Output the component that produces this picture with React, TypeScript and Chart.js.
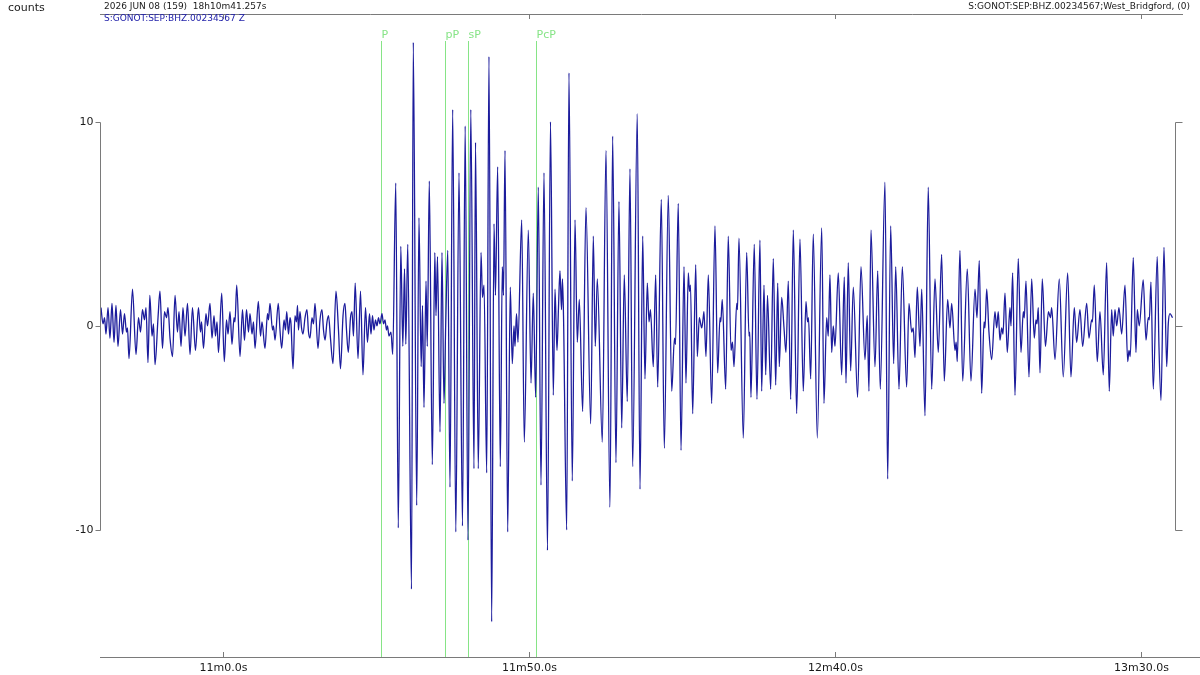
import React, { useEffect, useRef } from "react";
import { Chart, registerables } from "chart.js";

Chart.register(...registerables);

// ---- data -------------------------------------------------------------
const Y_UNITS = "counts";
const HEADER_LEFT = "2026 JUN 08 (159)  18h10m41.257s";
const HEADER_RIGHT = "S:GONOT:SEP:BHZ.00234567;West_Bridgford, (0)";
const TRACE_LABEL = "S:GONOT:SEP:BHZ.00234567 Z";

// seconds after 18h00m at the left edge of the window, and window length (s)
const WINDOW_START = 639.9;
const WINDOW_LENGTH = 175.66;

// x-axis tick values (seconds after 18h00m) and y-axis tick values (counts)
const X_TICKS = [660, 710, 760, 810];
const Y_TICKS = [10, 0, -10];
const Y_MIN = -16.23;
const Y_MAX = 15.29;

// phase picks (seconds after window start)
const PICK_NAMES = ["P", "pP", "sP", "PcP"];
const PICK_OFFSETS = [45.92, 56.37, 60.13, 71.24];

// trace turning points: time (s after window start) and amplitude (counts)
const TRACE_OFFSETS = [
  0.16, 0.49, 0.74, 0.98, 1.31, 1.63, 1.96, 2.29, 2.61, 2.94, 3.35, 3.68, 4.0, 4.33, 4.49, 4.74, 5.31, 5.88, 6.29, 6.62,
  6.94, 7.27, 7.52, 7.84, 8.14, 8.5, 8.74, 8.99, 9.48, 9.8, 10.21, 10.54, 10.87, 11.11, 11.44, 11.85, 12.26, 12.66, 12.91, 13.24,
  13.56, 13.89, 14.3, 14.71, 15.11, 15.6, 16.09, 16.42, 16.59, 16.91, 17.32, 17.57, 17.97, 18.3, 18.63, 18.87, 19.12, 19.36, 19.89, 20.31,
  20.67, 20.92, 21.24, 21.57, 21.9, 22.06, 22.34, 22.88, 23.28, 23.61, 23.94, 24.26, 24.51, 24.84, 25.08, 25.33, 25.87, 26.23, 26.47, 26.96,
  27.37, 27.53, 27.78, 28.19, 28.35, 28.6, 29.13, 29.41, 29.69, 30.07, 30.31, 30.51, 30.8, 31.05, 31.21, 31.54, 31.86, 32.11, 32.27, 32.43,
  32.68, 32.93, 33.17, 33.5, 33.82, 34.07, 34.31, 34.64, 34.89, 35.13, 35.62, 35.95, 36.27, 36.52, 36.77, 37.09, 37.34, 37.66, 38.07, 38.56,
  38.97, 39.3, 39.71, 40.03, 40.28, 40.57, 40.93, 41.18, 41.42, 41.7, 42.16, 42.57, 42.97, 43.38, 43.71, 44.04, 44.28, 44.53, 44.77, 45.02,
  45.26, 45.51, 45.75, 46.08, 46.32, 46.57, 46.81, 46.98, 47.22, 47.55, 47.83, 48.33, 48.74, 49.15, 49.48, 49.76, 49.97, 50.29, 50.9, 51.19,
  51.75, 52.12, 52.48, 52.7, 52.94, 53.27, 53.48, 53.81, 54.3, 54.71, 54.9, 55.15, 55.56, 55.88, 56.21, 56.5, 56.83, 57.19, 57.63, 58.14,
  58.66, 59.23, 59.67, 60.13, 60.59, 61.11, 61.36, 61.81, 62.26, 62.5, 62.75, 63.19, 63.56, 64.0, 64.38, 64.62, 64.98, 65.41, 65.74, 65.93,
  66.18, 66.62, 67.04, 67.37, 67.65, 67.81, 68.06, 68.3, 68.91, 69.33, 69.99, 70.43, 70.8, 71.19, 71.62, 72.06, 72.55, 73.12, 73.61, 74.07,
  74.35, 74.67, 74.92, 75.16, 75.41, 75.57, 75.74, 76.26, 76.63, 77.17, 77.62, 77.99, 78.32, 78.87, 79.41, 80.18, 80.61, 80.93, 81.26, 82.08,
  82.68, 83.33, 83.77, 84.31, 84.8, 85.25, 85.67, 86.16, 86.6, 87.04, 87.79, 88.24, 88.68, 89.05, 89.43, 89.71, 89.95, 90.41, 90.8, 91.13,
  91.72, 92.21, 92.86, 93.42, 93.87, 94.04, 94.49, 94.94, 95.43, 95.75, 96.13, 96.32, 96.49, 96.85, 97.34, 97.6, 97.93, 98.32, 98.53, 98.69,
  99.02, 99.4, 99.95, 100.49, 100.93, 101.31, 101.44, 101.68, 102.24, 102.66, 103.11, 103.35, 103.6, 104.04, 104.17, 104.41, 105.12, 105.67, 106.05, 106.18,
  106.37, 106.91, 107.35, 107.84, 108.12, 108.5, 108.78, 109.07, 109.59, 110.02, 110.41, 110.74, 111.0, 111.39, 111.77, 112.09, 112.47, 112.86, 113.29, 113.84,
  114.38, 114.92, 115.36, 115.61, 115.77, 116.13, 116.55, 117.21, 117.93, 118.3, 118.74, 119.0, 119.28, 119.56, 119.82, 120.1, 120.64, 121.19, 121.62, 121.9,
  122.27, 122.66, 123.09, 123.79, 124.35, 125.0, 125.37, 125.65, 125.98, 126.64, 127.08, 127.5, 128.27, 128.71, 129.2, 129.69, 130.02, 130.56, 131.1, 131.81,
  132.19, 132.63, 132.89, 133.17, 133.55, 133.99, 134.27, 134.81, 135.34, 135.9, 136.44, 136.98, 137.53, 137.96, 138.51, 138.89, 139.17, 139.71, 139.9, 140.08,
  140.52, 140.97, 141.72, 142.32, 142.98, 143.3, 143.68, 144.07, 144.45, 144.61, 144.89, 145.26, 145.7, 146.24, 146.52, 146.78, 147.06, 147.34, 147.55, 147.88,
  148.25, 148.69, 148.86, 149.13, 149.51, 150.05, 150.49, 150.87, 151.03, 151.31, 151.8, 152.24, 152.66, 152.94, 153.11, 153.32, 153.6, 153.97, 154.49, 154.98,
  155.31, 155.51, 156.05, 156.75, 157.4, 158.12, 158.66, 159.2, 159.59, 160.13, 160.57, 161.23, 161.6, 162.04, 162.17, 162.47, 162.96, 163.4, 163.94, 164.49,
  164.92, 165.31, 165.57, 165.85, 166.13, 166.5, 166.95, 167.49, 167.93, 168.14, 168.35, 168.84, 169.28, 169.5, 169.82, 170.47, 170.92, 171.29, 171.46, 171.73,
  172.11, 172.76, 173.04, 173.37, 173.86, 174.3, 174.56, 174.84, 175.25,
];

const TRACE_COUNTS = [
  0.9, 0.1, 0.4, -0.4, 0.9, -0.6, 1.1, -0.8, 1.0, -1.0, 0.8, -0.4, 0.6, -0.3, -0.1, -1.6, 1.8, -1.4, 0.4, -0.3,
  0.8, 0.3, 0.9, -1.8, 1.5, -0.5, 0.1, -1.9, 0.4, 1.7, -1.1, 0.7, 0.4, 0.9, -0.6, -1.5, 1.5, -0.3, 0.7, -1.0,
  0.9, -0.5, 1.1, -1.4, 0.9, -1.2, 0.9, -0.3, 0.2, -1.1, 0.6, 0.0, 1.1, -0.6, 0.5, -0.5, 0.2, -1.3, 1.6, -1.75,
  0.3, -0.4, 0.7, -0.9, 0.4, 0.2, 2.0, -1.5, 0.8, -0.7, 0.8, -0.3, 0.6, -0.4, 0.2, -1.1, 1.2, -0.5, 0.2, -1.1,
  0.6, 0.3, 1.1, -0.2, 0.0, -0.7, 1.1, -0.2, -1.1, 0.3, -0.2, 0.7, -0.4, 0.4, 0.1, -2.1, 0.5, 0.2, 1.0, -0.2,
  0.7, -0.1, -0.4, 0.4, 0.8, -0.3, -0.6, 0.4, 0.1, 1.1, -1.1, 0.3, 0.8, -0.2, -0.7, 0.2, 0.5, -0.6, -1.85, 1.7,
  -0.2, -2.1, 0.5, 1.1, -0.2, -1.3, 0.4, 0.7, -0.5, 2.1, -1.6, 1.7, -2.4, 0.9, -0.8, 0.6, -0.4, 0.5, -0.2, 0.3,
  0.0, 0.4, 0.1, 0.6, 0.1, 0.3, -0.2, 0.0, -0.5, -0.3, -1.4, 7.0, -9.9, 3.9, -1.0, 2.8, -0.9, 4.0, -12.9, 13.9,
  -8.8, 5.3, -2.0, 1.0, -4.0, 2.2, -1.0, 7.1, -6.8, 3.6, 0.5, 3.4, -5.2, 3.6, -3.8, 0.2, 3.7, -7.9, 10.6, -10.1,
  7.5, -9.8, 9.8, -10.5, 10.6, -7.0, 9.0, -7.0, 3.6, 1.4, 2.0, -7.2, 13.2, -14.5, 5.0, 1.5, 7.8, -6.9, 2.9, 1.5,
  8.6, -10.1, 1.9, -1.85, 0.0, -1.0, 0.6, -0.8, 5.2, -5.7, 4.7, -2.8, 1.6, -3.5, 6.8, -7.8, 7.5, -11.0, 10.0, -3.4,
  1.8, -1.2, 0.9, 2.7, 0.8, 2.3, 0.5, -10.0, 12.4, -7.6, 5.2, -0.8, 1.3, -4.2, 5.8, -4.8, 4.4, -1.0, 2.3, -5.7,
  8.6, -8.9, 9.3, -6.7, 6.1, -5.0, 2.5, -3.7, 7.7, -6.9, 10.4, -8.0, 4.4, -2.6, 2.1, 0.2, 0.8, -2.0, 2.5, -3.0,
  6.2, -6.0, 6.4, -3.2, -0.6, -0.9, 6.0, -6.1, 2.9, -2.8, 2.6, 1.7, 2.0, -4.3, 3.0, -1.5, 0.4, -0.1, 0.3, 0.7,
  -1.5, 2.5, -3.8, 4.9, -2.3, 0.4, 0.2, 1.3, -3.1, 4.4, -1.2, -0.8, -2.0, 1.1, 0.8, 4.3, -5.5, 3.6, -0.5, -0.3,
  -3.5, 4.0, -3.6, 4.2, -3.2, 2.0, -2.4, 1.5, -3.1, 3.3, -2.9, 2.1, -2.0, 1.4, -0.1, -1.3, 2.2, -3.6, 4.7, -4.3,
  4.25, -3.2, 1.2, 0.2, 0.4, -2.6, 4.5, -5.5, 4.8, -3.8, 0.4, -0.5, 2.5, -1.3, 0.0, -1.0, 2.6, -2.4, 2.4, -2.8,
  3.1, -2.2, 1.9, -3.5, 2.9, -1.65, 0.5, -3.2, 4.7, -2.0, 2.7, -3.1, 7.05, -7.5, 4.9, -1.85, 2.9, -3.1, 2.9, -3.0,
  1.1, -0.3, -0.1, -1.55, 1.9, -1.0, 1.8, -4.4, 6.8, -3.1, 2.3, -1.3, 3.5, -2.7, 1.3, -0.1, 1.1, -1.2, -0.8, -1.75,
  3.7, -2.7, 2.8, -2.7, 1.8, 0.4, 3.2, -3.3, 0.2, -0.1, 1.8, -0.3, -1.65, 0.7, -0.1, 0.7, -0.7, -0.1, -0.4, 1.6,
  -1.3, 0.9, 0.0, 2.6, -3.4, 3.3, -1.3, 0.7, 0.4, 2.2, -2.5, 2.3, -0.6, 0.3, 0.1, 0.9, -2.3, 2.3, -1.0, 0.7,
  0.4, 0.9, -1.65, 2.3, -2.5, 2.6, -2.5, 0.9, -0.8, 0.8, -1.0, 1.1, -0.6, 0.3, 0.2, 2.0, -1.75, 0.7, -2.4, 3.1,
  -3.2, 0.8, -0.5, 0.8, 0.0, 0.9, -0.4, 2.0, -1.75, -1.2, -1.5, 3.35, -1.3, 0.8, 0.0, 2.25, -0.7, 0.4, 0.3, 2.15,
  -3.1, 3.4, -1.0, -3.65, 3.85, -2.0, 0.1, 0.6, 0.4,
];

// ---- styling ----------------------------------------------------------
const FONT = "DejaVu Sans";
const AXIS_COLOR = "#7a7a7a";
const TEXT_COLOR = "#1a1a1a";
const TRACE_COLOR = "#1c1c9c";
const PICK_COLOR = "#86e486";
const LABEL_BLUE = "#2222aa";

function formatTime(v: number): string {
  const m = Math.floor(v / 60 + 1e-9);
  const s = v - m * 60;
  return `${m}m${s.toFixed(1)}s`;
}

const seisPlugin = {
  id: "seisDecor",
  beforeDatasetsDraw(chart: any) {
    const { ctx, chartArea, scales } = chart;
    ctx.save();
    ctx.strokeStyle = PICK_COLOR;
    ctx.fillStyle = PICK_COLOR;
    ctx.lineWidth = 1;
    ctx.font = `11px "${FONT}"`;
    ctx.textAlign = "left";
    ctx.textBaseline = "bottom";
    PICK_NAMES.forEach((name, i) => {
      const x = Math.round(scales.x.getPixelForValue(WINDOW_START + PICK_OFFSETS[i])) + 0.5;
      ctx.beginPath();
      ctx.moveTo(x, 41);
      ctx.lineTo(x, chartArea.bottom);
      ctx.stroke();
      ctx.fillText(name, x, 41);
    });
    ctx.restore();
  },
  afterDraw(chart: any) {
    const { ctx, chartArea, scales } = chart;
    const { left, right, top, bottom } = chartArea;
    ctx.save();
    ctx.strokeStyle = AXIS_COLOR;
    ctx.lineWidth = 1;
    // bottom and top axis lines
    ctx.beginPath();
    ctx.moveTo(left, Math.round(bottom) + 0.5);
    ctx.lineTo(1200, Math.round(bottom) + 0.5);
    ctx.moveTo(left, Math.round(top) + 0.5);
    ctx.lineTo(right + 8, Math.round(top) + 0.5);
    ctx.stroke();
    // time ticks
    ctx.fillStyle = TEXT_COLOR;
    ctx.font = `11px "${FONT}"`;
    ctx.textAlign = "center";
    ctx.textBaseline = "middle";
    X_TICKS.forEach((v) => {
      const x = Math.round(scales.x.getPixelForValue(v)) + 0.5;
      ctx.beginPath();
      ctx.moveTo(x, bottom);
      ctx.lineTo(x, bottom - 5);
      ctx.moveTo(x, top);
      ctx.lineTo(x, top + 5);
      ctx.stroke();
      ctx.fillText(formatTime(v), x, bottom + 11);
    });
    // amplitude brackets
    const yTop = Math.round(scales.y.getPixelForValue(Math.max(...Y_TICKS))) + 0.5;
    const yBot = Math.round(scales.y.getPixelForValue(Math.min(...Y_TICKS))) + 0.5;
    const lx = Math.round(left) + 0.5;
    const rx = Math.round(right) + 0.5;
    ctx.beginPath();
    ctx.moveTo(lx, yTop);
    ctx.lineTo(lx, yBot);
    ctx.moveTo(rx, yTop);
    ctx.lineTo(rx, yBot);
    Y_TICKS.forEach((v) => {
      const y = Math.round(scales.y.getPixelForValue(v)) + 0.5;
      ctx.moveTo(lx - 5, y);
      ctx.lineTo(lx, y);
      ctx.moveTo(rx, y);
      ctx.lineTo(rx + 7, y);
    });
    ctx.stroke();
    ctx.textAlign = "right";
    Y_TICKS.forEach((v) => {
      const y = scales.y.getPixelForValue(v);
      ctx.fillText(String(v), lx - 7, y);
    });
    // header texts
    ctx.font = `11px "${FONT}"`;
    ctx.textAlign = "left";
    ctx.textBaseline = "middle";
    ctx.fillText(Y_UNITS, 8, 8);
    ctx.font = `9px "${FONT}"`;
    ctx.fillText(HEADER_LEFT, 104, 7);
    ctx.textAlign = "right";
    ctx.fillText(HEADER_RIGHT, 1190, 7);
    ctx.textAlign = "left";
    ctx.fillStyle = LABEL_BLUE;
    ctx.fillText(TRACE_LABEL, 104, 19);
    ctx.restore();
  },
};

export default function App() {
  const canvasRef = useRef<HTMLCanvasElement | null>(null);

  useEffect(() => {
    const canvas = canvasRef.current;
    if (!canvas) return;
    const points = TRACE_OFFSETS.map((o, i) => ({ x: WINDOW_START + o, y: TRACE_COUNTS[i] }));
    const chart = new Chart(canvas, {
      type: "line",
      data: {
        datasets: [
          {
            data: points,
            borderColor: TRACE_COLOR,
            borderWidth: 1.3,
            pointRadius: 0,
            fill: false,
            cubicInterpolationMode: "monotone",
          } as any,
        ],
      },
      options: {
        animation: false,
        responsive: false,
        devicePixelRatio: 1,
        parsing: false as any,
        layout: { padding: { left: 100, right: 25, top: 14, bottom: 18 } },
        scales: {
          x: { type: "linear", min: WINDOW_START, max: WINDOW_START + WINDOW_LENGTH, display: false },
          y: { type: "linear", min: Y_MIN, max: Y_MAX, display: false },
        },
        plugins: { legend: { display: false }, tooltip: { enabled: false } },
      },
      plugins: [seisPlugin],
    });
    return () => chart.destroy();
  }, []);

  return (
    <div style={{ position: "fixed", left: 0, top: 0, width: 1200, height: 675, background: "#fff" }}>
      <canvas ref={canvasRef} width={1200} height={675} style={{ display: "block" }} />
    </div>
  );
}
